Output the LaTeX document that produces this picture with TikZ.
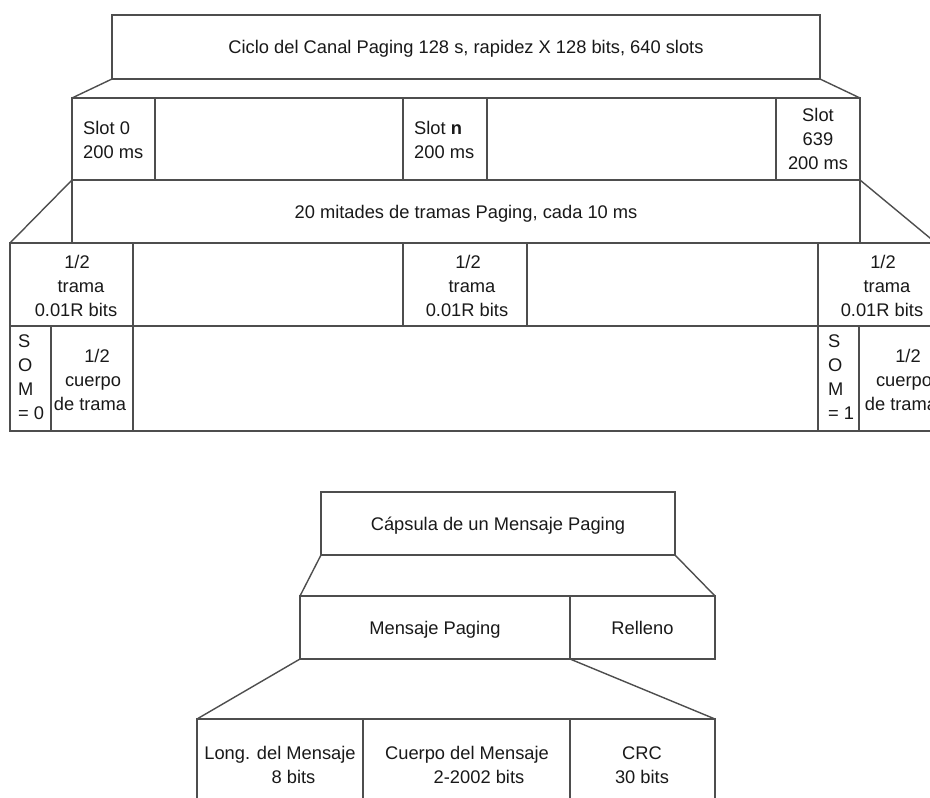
\documentclass[tikz,border=0pt]{standalone}
\usepackage{fontspec}
\setmainfont{Liberation Sans}
\definecolor{linegray}{RGB}{78,78,78}
\definecolor{txtcol}{RGB}{25,25,25}
\newcommand\lblfont{\fontsize{18.3}{24}\selectfont}
% a drawn cell given by its corners (x1,y1) and (x2,y2), y growing downwards
\newcommand\cellnode[6]{%
  \node[cellbox, minimum width={#4pt-#2pt}, minimum height={#5pt-#3pt}]
    (#1) at ({(#2+#4)/2},{(#3+#5)/2}) {#6};}
\tikzset{
  cellbox/.style={rectangle, draw=linegray, line width=1.4pt, inner sep=0pt,
    outer sep=0pt, font=\lblfont, text=txtcol, text height=13.2pt, text depth=0pt},
  lbl/.style={inner sep=0pt, font=\lblfont, text=txtcol, align=center},
  link/.style={draw=linegray, line width=1.4pt},
}
\begin{document}
\begin{tikzpicture}[x=1pt,y=-1pt]
\clip (0,0) rectangle (930,798);
\fill[white] (0,0) rectangle (930,798);

% paging channel cycle
\cellnode{cycle}{112}{15}{820}{79}{Ciclo del Canal Paging 128 s, rapidez X 128 bits, 640 slots}

% slots
\cellnode{s0}{72}{98}{155}{180}{}
\cellnode{sgapa}{155}{98}{403}{180}{}
\cellnode{sn}{403}{98}{487}{180}{}
\cellnode{sgapb}{487}{98}{776}{180}{}
\cellnode{slast}{776}{98}{860}{180}{}
\node[lbl, align=left, anchor=west] (s0t) at (83,140) {Slot 0\\200 ms};
\node[lbl, align=left, anchor=west] (snt) at (414,140) {Slot \textbf{n}\\200 ms};
\node[lbl] (slastt) at (818,139) {Slot\\639\\200 ms};
\draw[link] (cycle.south west) -- (s0.north west);
\draw[link] (cycle.south east) -- (slast.north east);

% half frames of one slot
\cellnode{halves}{72}{180}{860}{243}{20 mitades de tramas Paging, cada 10 ms}

\cellnode{h0}{10}{243}{133}{326}{}
\cellnode{hgapa}{133}{243}{403}{326}{}
\cellnode{hn}{403}{243}{527}{326}{}
\cellnode{hgapb}{527}{243}{818}{326}{}
\cellnode{hlast}{818}{243}{936}{326}{}
\node[lbl] (h0t) at (76,286) {\hspace*{2pt}1/2\\\hspace*{10pt}trama\\0.01R bits};
\node[lbl] (hnt) at (467,286) {\hspace*{2pt}1/2\\\hspace*{10pt}trama\\0.01R bits};
\node[lbl] (hlastt) at (882,286) {\hspace*{2pt}1/2\\\hspace*{10pt}trama\\0.01R bits};
\draw[link] (halves.north west) -- (h0.north west);
\draw[link] (halves.north east) -- (hlast.north east);

% start-of-message flags and half frame bodies
\cellnode{som0}{10}{326}{51}{431}{}
\cellnode{body0}{51}{326}{133}{431}{}
\cellnode{bgap}{133}{326}{818}{431}{}
\cellnode{som1}{818}{326}{859}{431}{}
\cellnode{body1}{859}{326}{936}{431}{}
\node[lbl, align=left, anchor=west] (som0t) at (18,377) {S\\O\\M\\= 0};
\node[lbl, align=left, anchor=west] (som1t) at (828,377) {S\\O\\M\\= 1};
\node[lbl] (body0t) at (90,380) {\hspace*{14pt}1/2\\\hspace*{6pt}cuerpo\\de trama};
\node[lbl] (body1t) at (901,380) {\hspace*{14pt}1/2\\\hspace*{6pt}cuerpo\\de trama};

% paging message capsule
\cellnode{capsule}{321}{492}{675}{555}{Cápsula de un Mensaje Paging}
\cellnode{msg}{300}{596}{570}{659}{Mensaje Paging}
\cellnode{fill}{570}{596}{715}{659}{Relleno}
\draw[link] (capsule.south west) -- (msg.north west);
\draw[link] (capsule.south east) -- (fill.north east);

% message fields
\cellnode{lenf}{197}{719}{363}{811}{}
\cellnode{bodyf}{363}{719}{570}{811}{}
\cellnode{crcf}{570}{719}{715}{811}{}
\node[lbl] (lenft) at (280,765) {Long. del Mensaje\\\hspace*{27pt}8 bits};
\node[lbl] (bodyft) at (467,765) {Cuerpo del Mensaje\\\hspace*{24pt}2-2002 bits};
\node[lbl] (crcft) at (642,765) {CRC\\30 bits};
\draw[link] (msg.south west) -- (lenf.north west);
\draw[link] (msg.south east) -- (crcf.north east);
\end{tikzpicture}
\end{document}
